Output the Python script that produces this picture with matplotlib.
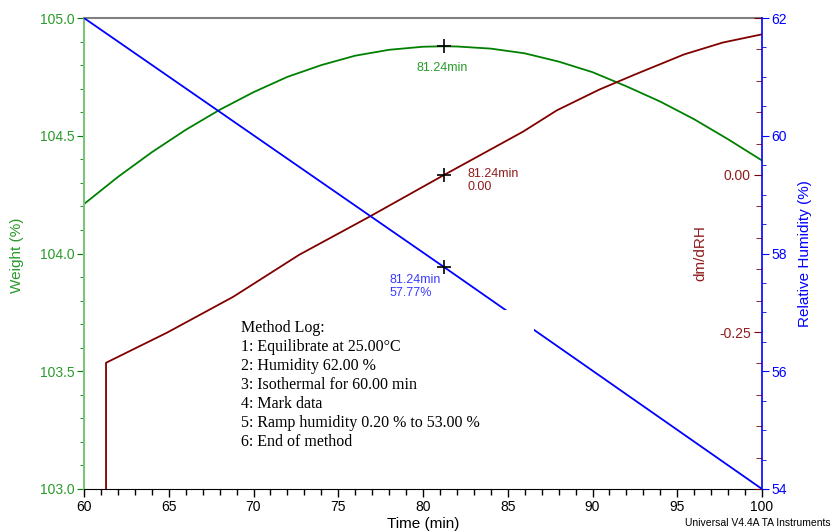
import matplotlib
matplotlib.use("Agg")
import matplotlib.pyplot as plt
from matplotlib.patches import Rectangle
from matplotlib.ticker import MultipleLocator

plt.rcParams['font.family'] = ['Liberation Sans', 'DejaVu Sans']

# Weight (%) vs time
weight_t = [60, 62, 64, 66, 68, 70, 72, 74, 76, 78, 80, 81.24,
            82, 84, 86, 88, 90, 92, 94, 96, 98, 100]
weight_v = [104.21, 104.325, 104.43, 104.525, 104.61, 104.685, 104.75, 104.80,
            104.84, 104.865, 104.878, 104.88, 104.879, 104.87, 104.85, 104.815,
            104.77, 104.71, 104.645, 104.57, 104.485, 104.395]

# derivative dm/dRH vs time
deriv_t = [61.30, 61.30, 64.9, 68.8, 72.7, 76.8, 81.24, 85.9, 87.9, 90.4,
           92.5, 95.4, 97.7, 100.0]
deriv_v = [-0.52, -0.299, -0.251, -0.194, -0.127, -0.067, 0.00, 0.069, 0.103,
           0.136, 0.160, 0.192, 0.211, 0.224]

# relative humidity (%) vs time
rh_t = [60, 81.24, 100]
rh_v = [62.0, 57.77, 54.0]

# cursor point
cursor_t = 81.24
cursor_w = 104.88
cursor_d = 0.00
cursor_rh = 57.77

method_log = ["Method Log:",
              "1: Equilibrate at 25.00\u00b0C",
              "2: Humidity 62.00 %",
              "3: Isothermal for 60.00 min",
              "4: Mark data",
              "5: Ramp humidity 0.20 % to 53.00 %",
              "6: End of method"]

GREEN = '#008000'
GREEN_TXT = '#2a9a2a'
RED = '#800000'
RED_TXT = '#901c1c'
BLUE = '#0000ff'

W, H = 834, 531
fig = plt.figure(figsize=(W / 100, H / 100), dpi=100)
ax = fig.add_axes([84 / W, 1 - 489 / H, 678 / W, 471 / H])
ax_d = ax.twinx()
ax_rh = ax.twinx()

# weight axis
ax.plot(weight_t, weight_v, color=GREEN, lw=1.3)
ax.plot([cursor_t], [cursor_w], marker='+', color='black', ms=10, mew=1.2)
ax.set_xlim(60, 100)
ax.set_ylim(103.0, 105.0)
ax.xaxis.set_major_locator(MultipleLocator(5))
ax.xaxis.set_minor_locator(MultipleLocator(1))
ax.yaxis.set_major_locator(MultipleLocator(0.5))
ax.yaxis.set_minor_locator(MultipleLocator(0.1))
ax.yaxis.set_major_formatter(lambda v, p: f"{v:.1f}")
ax.tick_params(axis='x', which='major', length=6, width=1, pad=2, labelsize=10)
ax.tick_params(axis='x', which='minor', length=4, width=1)
ax.tick_params(axis='y', which='both', colors=GREEN, labelcolor=GREEN_TXT,
               labelsize=10, pad=2)
ax.tick_params(axis='y', which='major', length=5)
ax.tick_params(axis='y', which='minor', length=3)
ax.spines['left'].set_color('#7cc47c')
ax.spines['left'].set_linewidth(1.5)
ax.spines['top'].set_color('#808080')
ax.spines['top'].set_linewidth(1.5)
ax.spines['right'].set_visible(False)

# dm/dRH axis (labels inside)
ax_d.plot(deriv_t, deriv_v, color=RED, lw=1.3)
ax_d.plot([cursor_t], [cursor_d], marker='+', color='black', ms=10, mew=1.2)
ax_d.set_ylim(-0.50, 0.25)
ax_d.yaxis.set_major_locator(MultipleLocator(0.25))
ax_d.yaxis.set_minor_locator(MultipleLocator(0.05))
ax_d.yaxis.set_major_formatter(lambda v, p: f"{v:.2f}" if v <= 0.01 and v > -0.3 else "")
ax_d.tick_params(axis='y', which='both', direction='in', colors=RED,
                 labelcolor=RED_TXT, labelsize=10, pad=-8)
ax_d.tick_params(axis='y', which='major', length=6)
ax_d.tick_params(axis='y', which='minor', length=4)
for lab in ax_d.get_yticklabels():
    lab.set_horizontalalignment('right')
for s in ax_d.spines.values():
    s.set_visible(False)
ax_d.set_ylabel('dm/dRH', color=RED_TXT, fontsize=11)
ax_d.yaxis.set_label_coords((693 - 84) / 678, 0.5)

# relative humidity axis
ax_rh.plot(rh_t, rh_v, color=BLUE, lw=1.3)
ax_rh.plot([cursor_t], [cursor_rh], marker='+', color='black', ms=10, mew=1.2)
ax_rh.set_ylim(54, 62)
ax_rh.yaxis.set_major_locator(MultipleLocator(2))
ax_rh.yaxis.set_minor_locator(MultipleLocator(0.5))
ax_rh.tick_params(axis='y', which='both', colors=BLUE, labelsize=10, pad=2)
ax_rh.tick_params(axis='y', which='major', length=5)
ax_rh.tick_params(axis='y', which='minor', length=3)
for side in ['left', 'top', 'bottom']:
    ax_rh.spines[side].set_visible(False)
ax_rh.spines['right'].set_color(BLUE)
ax_rh.spines['right'].set_linewidth(1.2)
ax_rh.set_ylabel('Relative Humidity (%)', color=BLUE, fontsize=11, labelpad=8)

# cursor annotations
ax.annotate(f"{cursor_t:.2f}min", (cursor_t, cursor_w), xytext=(-1, -11),
            textcoords='offset points', ha='center', va='top',
            color=GREEN_TXT, fontsize=9)
ax_d.annotate(f"{cursor_t:.2f}min\n{cursor_d:.2f}", (cursor_t, cursor_d),
              xytext=(17, -4), textcoords='offset points', ha='left',
              va='center', color=RED_TXT, fontsize=9, linespacing=1.15)
ax_rh.annotate(f"{cursor_t:.2f}min\n{cursor_rh:.2f}%", (cursor_t, cursor_rh),
               xytext=(-39, -5), textcoords='offset points', ha='left',
               va='top', color='#3a3aff', fontsize=9, linespacing=1.15)

# axis titles
fig.text(17 / W, 1 - 255 / H, 'Weight (%)', rotation=90, color=GREEN_TXT,
         fontsize=11, ha='center', va='center')
fig.text(423 / W, 1 - 524 / H, 'Time (min)', fontsize=11, ha='center', va='center')
fig.text(831 / W, 1 - 523 / H, 'Universal V4.4A TA Instruments', fontsize=7.5,
         ha='right', va='center')

# method log box
fig.add_artist(Rectangle((235 / W, 1 - 458 / H), (534 - 235) / W, (458 - 310) / H,
                         transform=fig.transFigure, facecolor='white',
                         edgecolor='none', zorder=2.5))
fig.text(241 / W, 1 - 320 / H, "\n".join(method_log), family='Liberation Serif',
         fontsize=11.5, ha='left', va='top', linespacing=1.25, zorder=3)

fig.savefig('out.png', dpi=100)
